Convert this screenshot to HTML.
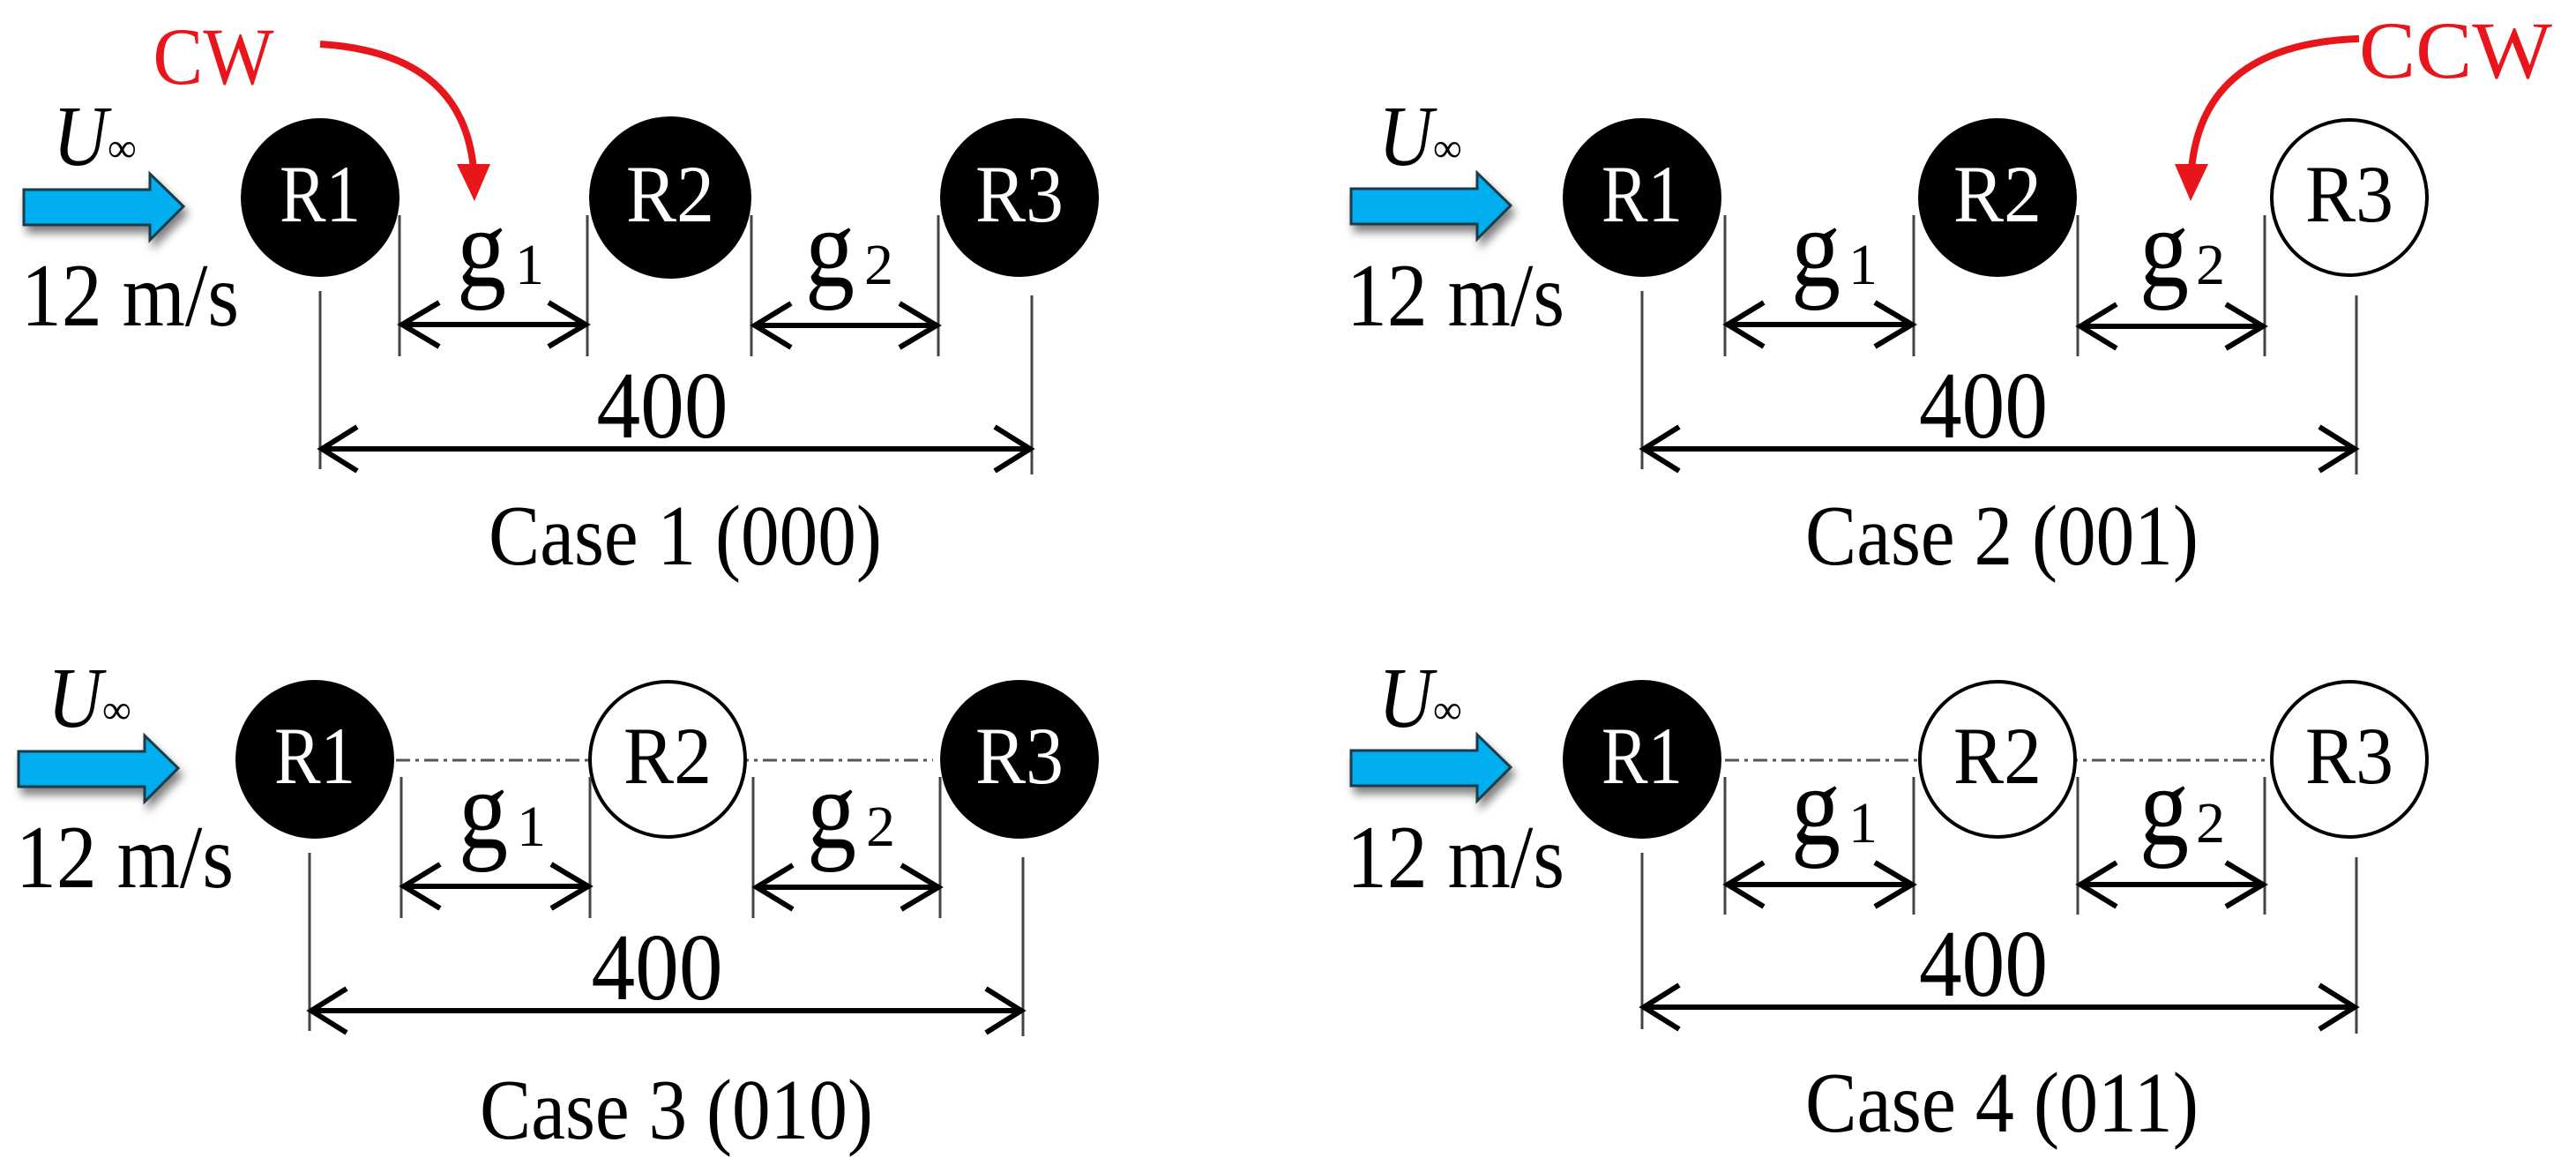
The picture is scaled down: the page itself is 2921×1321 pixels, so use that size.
<!DOCTYPE html>
<html><head><meta charset="utf-8"><style>
html,body{margin:0;padding:0;background:#fff;}
svg{display:block;}
svg text{font-family:"Liberation Serif","DejaVu Serif","Times New Roman",serif !important;}
</style></head><body>
<svg width="2921" height="1321" viewBox="0 0 2921 1321" xmlns="http://www.w3.org/2000/svg" font-family="Liberation Serif, DejaVu Serif, serif">
<defs>
<filter id="sh" x="-20%" y="-30%" width="150%" height="170%"><feGaussianBlur in="SourceAlpha" stdDeviation="5"/><feOffset dx="4" dy="8"/><feComponentTransfer><feFuncA type="linear" slope="0.5"/></feComponentTransfer><feMerge><feMergeNode/><feMergeNode in="SourceGraphic"/></feMerge></filter>
<g id="blue"><polygon points="27,215 170,215 170,197 208,234 170,272 170,255 27,255" fill="#00aeef" stroke="#1a3a4a" stroke-width="3" filter="url(#sh)"/></g>
<g id="uinf">
<text x="60" y="187" font-size="98" font-style="italic" textLength="62" lengthAdjust="spacingAndGlyphs">U</text>
<text x="122" y="183" font-size="46">∞</text>
<text x="24" y="369" font-size="102" textLength="247" lengthAdjust="spacingAndGlyphs">12 m/s</text>
</g>
</defs>

<!-- ============ CASE 1 ============ -->
<g>
<use href="#blue"/><use href="#uinf"/>
<circle cx="363" cy="224" r="90" fill="#000"/>
<circle cx="760" cy="224" r="92" fill="#000"/>
<circle cx="1156" cy="224" r="90" fill="#000"/>
<text x="363" y="251" font-size="92" fill="#fff" text-anchor="middle" textLength="92" lengthAdjust="spacingAndGlyphs">R1</text>
<text x="760" y="251" font-size="92" fill="#fff" text-anchor="middle" textLength="100" lengthAdjust="spacingAndGlyphs">R2</text>
<text x="1156" y="251" font-size="92" fill="#fff" text-anchor="middle" textLength="100" lengthAdjust="spacingAndGlyphs">R3</text>
<g stroke="#444" stroke-width="3">
<line x1="453" y1="244" x2="453" y2="404"/><line x1="666" y1="244" x2="666" y2="404"/>
<line x1="852" y1="244" x2="852" y2="404"/><line x1="1064" y1="244" x2="1064" y2="404"/>
<line x1="363" y1="330" x2="363" y2="532"/><line x1="1170" y1="335" x2="1170" y2="538"/>
</g>
<g stroke="#000" stroke-width="6" fill="none">
<line x1="455" y1="368" x2="664" y2="368"/>
<polyline points="498,343 456,368 498,393"/><polyline points="622,343 664,368 622,393"/>
<line x1="855" y1="369" x2="1062" y2="369"/>
<polyline points="897,344 856,369 897,394"/><polyline points="1020,344 1062,369 1020,394"/>
<line x1="365" y1="509" x2="1168" y2="509"/>
<polyline points="405,484 365,509 405,534"/><polyline points="1128,484 1168,509 1128,534"/>
</g>
<text x="518" y="324" font-size="128" textLength="56" lengthAdjust="spacingAndGlyphs">g</text><text x="584" y="322" font-size="66">1</text>
<text x="913" y="324" font-size="128" textLength="56" lengthAdjust="spacingAndGlyphs">g</text><text x="980" y="322" font-size="66">2</text>
<text x="751" y="496" font-size="108" text-anchor="middle" textLength="149" lengthAdjust="spacingAndGlyphs">400</text>
<text x="777" y="640" font-size="98" text-anchor="middle" textLength="446" lengthAdjust="spacingAndGlyphs">Case 1 (000)</text>
<text x="242" y="95" font-size="92" fill="#e8151b" text-anchor="middle" textLength="137" lengthAdjust="spacingAndGlyphs">CW</text>
<path d="M363 50 Q525 60 537 192" stroke="#e8151b" stroke-width="8" fill="none"/>
<polygon points="518,186 556,186 538,228" fill="#e8151b"/>
</g>

<!-- ============ CASE 2 ============ -->
<g>
<use href="#blue" transform="translate(1505,-1)"/><use href="#uinf" transform="translate(1503,0)"/>
<circle cx="1862" cy="224" r="90" fill="#000"/>
<circle cx="2265" cy="224" r="90" fill="#000"/>
<circle cx="2664" cy="224" r="88" fill="#fff" stroke="#000" stroke-width="4"/>
<text x="1862" y="251" font-size="92" fill="#fff" text-anchor="middle" textLength="92" lengthAdjust="spacingAndGlyphs">R1</text>
<text x="2265" y="251" font-size="92" fill="#fff" text-anchor="middle" textLength="100" lengthAdjust="spacingAndGlyphs">R2</text>
<text x="2664" y="251" font-size="92" fill="#000" text-anchor="middle" textLength="100" lengthAdjust="spacingAndGlyphs">R3</text>
<g stroke="#444" stroke-width="3">
<line x1="1956" y1="244" x2="1956" y2="404"/><line x1="2170" y1="244" x2="2170" y2="404"/>
<line x1="2356" y1="244" x2="2356" y2="404"/><line x1="2568" y1="244" x2="2568" y2="404"/>
<line x1="1862" y1="330" x2="1862" y2="532"/><line x1="2672" y1="335" x2="2672" y2="538"/>
</g>
<g stroke="#000" stroke-width="6" fill="none">
<line x1="1958" y1="368" x2="2168" y2="368"/>
<polyline points="2000,343 1959,368 2000,393"/><polyline points="2126,343 2168,368 2126,393"/>
<line x1="2358" y1="370" x2="2566" y2="370"/>
<polyline points="2400,345 2359,370 2400,395"/><polyline points="2524,345 2566,370 2524,395"/>
<line x1="1864" y1="509" x2="2670" y2="509"/>
<polyline points="1904,484 1864,509 1904,534"/><polyline points="2630,484 2670,509 2630,534"/>
</g>
<text x="2031" y="324" font-size="128" textLength="56" lengthAdjust="spacingAndGlyphs">g</text><text x="2096" y="322" font-size="66">1</text>
<text x="2426" y="324" font-size="128" textLength="56" lengthAdjust="spacingAndGlyphs">g</text><text x="2490" y="322" font-size="66">2</text>
<text x="2249" y="496" font-size="108" text-anchor="middle" textLength="146" lengthAdjust="spacingAndGlyphs">400</text>
<text x="2270" y="640" font-size="98" text-anchor="middle" textLength="446" lengthAdjust="spacingAndGlyphs">Case 2 (001)</text>
<text x="2675" y="88" font-size="92" fill="#e8151b" textLength="219" lengthAdjust="spacingAndGlyphs">CCW</text>
<path d="M2675 44 Q2498 50 2485 192" stroke="#e8151b" stroke-width="8" fill="none"/>
<polygon points="2466,186 2504,186 2484,228" fill="#e8151b"/>
</g>

<!-- ============ CASE 3 ============ -->
<g transform="translate(-6,637)">
<use href="#blue"/><use href="#uinf"/>
<line x1="455" y1="225" x2="1064" y2="225" stroke="#555" stroke-width="3" stroke-dasharray="16 6 4 6"/>
<circle cx="363" cy="224" r="90" fill="#000"/>
<circle cx="763" cy="224" r="88" fill="#fff" stroke="#000" stroke-width="4"/>
<circle cx="1162" cy="224" r="90" fill="#000"/>
<text x="363" y="251" font-size="92" fill="#fff" text-anchor="middle" textLength="92" lengthAdjust="spacingAndGlyphs">R1</text>
<text x="763" y="251" font-size="92" fill="#000" text-anchor="middle" textLength="100" lengthAdjust="spacingAndGlyphs">R2</text>
<text x="1162" y="251" font-size="92" fill="#fff" text-anchor="middle" textLength="100" lengthAdjust="spacingAndGlyphs">R3</text>
<g stroke="#444" stroke-width="3">
<line x1="461" y1="244" x2="461" y2="404"/><line x1="675" y1="244" x2="675" y2="404"/>
<line x1="860" y1="244" x2="860" y2="404"/><line x1="1072" y1="244" x2="1072" y2="404"/>
<line x1="357" y1="330" x2="357" y2="532"/><line x1="1166" y1="335" x2="1166" y2="538"/>
</g>
<g stroke="#000" stroke-width="6" fill="none">
<line x1="463" y1="368" x2="673" y2="368"/>
<polyline points="505,343 464,368 505,393"/><polyline points="631,343 673,368 631,393"/>
<line x1="863" y1="369" x2="1070" y2="369"/>
<polyline points="905,344 864,369 905,394"/><polyline points="1028,344 1070,369 1028,394"/>
<line x1="359" y1="509" x2="1164" y2="509"/>
<polyline points="399,484 359,509 399,534"/><polyline points="1124,484 1164,509 1124,534"/>
</g>
<text x="526" y="324" font-size="128" textLength="56" lengthAdjust="spacingAndGlyphs">g</text><text x="592" y="322" font-size="66">1</text>
<text x="921" y="324" font-size="128" textLength="56" lengthAdjust="spacingAndGlyphs">g</text><text x="988" y="322" font-size="66">2</text>
<text x="751" y="496" font-size="108" text-anchor="middle" textLength="149" lengthAdjust="spacingAndGlyphs">400</text>
<text x="773" y="654" font-size="98" text-anchor="middle" textLength="446" lengthAdjust="spacingAndGlyphs">Case 3 (010)</text>
</g>

<!-- ============ CASE 4 ============ -->
<g transform="translate(0,637)">
<use href="#blue" transform="translate(1505,-1)"/><use href="#uinf" transform="translate(1503,0)"/>
<line x1="1956" y1="225" x2="2568" y2="225" stroke="#555" stroke-width="3" stroke-dasharray="16 6 4 6"/>
<circle cx="1862" cy="224" r="90" fill="#000"/>
<circle cx="2265" cy="224" r="88" fill="#fff" stroke="#000" stroke-width="4"/>
<circle cx="2664" cy="224" r="88" fill="#fff" stroke="#000" stroke-width="4"/>
<text x="1862" y="251" font-size="92" fill="#fff" text-anchor="middle" textLength="92" lengthAdjust="spacingAndGlyphs">R1</text>
<text x="2265" y="251" font-size="92" fill="#000" text-anchor="middle" textLength="100" lengthAdjust="spacingAndGlyphs">R2</text>
<text x="2664" y="251" font-size="92" fill="#000" text-anchor="middle" textLength="100" lengthAdjust="spacingAndGlyphs">R3</text>
<g stroke="#444" stroke-width="3">
<line x1="1956" y1="244" x2="1956" y2="400"/><line x1="2170" y1="244" x2="2170" y2="400"/>
<line x1="2356" y1="244" x2="2356" y2="400"/><line x1="2568" y1="244" x2="2568" y2="400"/>
<line x1="1862" y1="330" x2="1862" y2="530"/><line x1="2672" y1="335" x2="2672" y2="535"/>
</g>
<g stroke="#000" stroke-width="6" fill="none">
<line x1="1958" y1="366" x2="2168" y2="366"/>
<polyline points="2000,341 1959,366 2000,391"/><polyline points="2126,341 2168,366 2126,391"/>
<line x1="2358" y1="366" x2="2566" y2="366"/>
<polyline points="2400,341 2359,366 2400,391"/><polyline points="2524,341 2566,366 2524,391"/>
<line x1="1864" y1="505" x2="2670" y2="505"/>
<polyline points="1904,480 1864,505 1904,530"/><polyline points="2630,480 2670,505 2630,530"/>
</g>
<text x="2031" y="320" font-size="128" textLength="56" lengthAdjust="spacingAndGlyphs">g</text><text x="2096" y="318" font-size="66">1</text>
<text x="2426" y="320" font-size="128" textLength="56" lengthAdjust="spacingAndGlyphs">g</text><text x="2490" y="318" font-size="66">2</text>
<text x="2249" y="492" font-size="108" text-anchor="middle" textLength="146" lengthAdjust="spacingAndGlyphs">400</text>
<text x="2270" y="646" font-size="98" text-anchor="middle" textLength="446" lengthAdjust="spacingAndGlyphs">Case 4 (011)</text>
</g>
</svg>
</body></html>
